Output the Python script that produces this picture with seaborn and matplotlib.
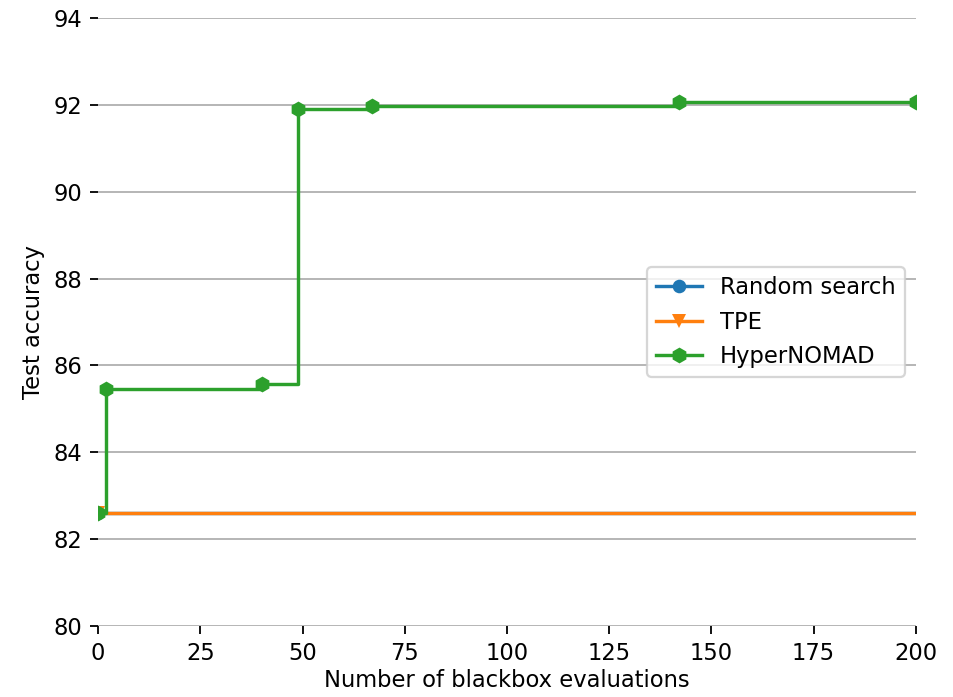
import numpy as np
import pandas as pd
import seaborn as sns
import matplotlib
matplotlib.use("Agg")
import matplotlib.pyplot as plt

# best test accuracy seen so far, per method
random_x = [0, 200]
random_acc = [82.6, 82.6]

tpe_x = [0, 200]
tpe_acc = [82.6, 82.6]

nomad_x = [0, 2, 40, 49, 67, 142, 200]
nomad_acc = [82.6, 85.45, 85.58, 91.9, 91.98, 92.06, 92.06]

y_ticks = [80, 82, 84, 86, 88, 90, 92, 94]
x_ticks = [0, 25, 50, 75, 100, 125, 150, 175, 200]

random_df = pd.DataFrame({"evals": random_x, "acc": random_acc})
tpe_df = pd.DataFrame({"evals": tpe_x, "acc": tpe_acc})
nomad_df = pd.DataFrame({"evals": nomad_x, "acc": nomad_acc})

DPI = 163
fig, ax = plt.subplots(figsize=(953 / DPI, 697 / DPI), dpi=DPI)

sns.lineplot(data=random_df, x="evals", y="acc", ax=ax, color="C0", marker="o",
             markersize=6, markeredgewidth=0, drawstyle="steps-post",
             label="Random search", markevery=[0])
sns.lineplot(data=tpe_df, x="evals", y="acc", ax=ax, color="C1", marker="v",
             markersize=6, markeredgewidth=0, drawstyle="steps-post",
             label="TPE", markevery=[0])
sns.lineplot(data=nomad_df, x="evals", y="acc", ax=ax, color="C2", marker="h",
             markersize=7, markeredgewidth=0, drawstyle="steps-post",
             label="HyperNOMAD")

ax.set_xlim(0, 200)
ax.set_ylim(80, 94)
ax.set_xticks(x_ticks)
ax.set_yticks(y_ticks)
ax.grid(axis="y", color="#b0b0b0", linewidth=0.8)
ax.set_axisbelow(True)
ax.set_xlabel("Number of blackbox evaluations", labelpad=2)
ax.set_ylabel("Test accuracy")
sns.despine(ax=ax, left=True, bottom=True)
ax.legend(loc="center right")

plt.subplots_adjust(left=0.103, right=0.961, top=0.974, bottom=0.102)
plt.savefig("out.png", dpi=DPI)
